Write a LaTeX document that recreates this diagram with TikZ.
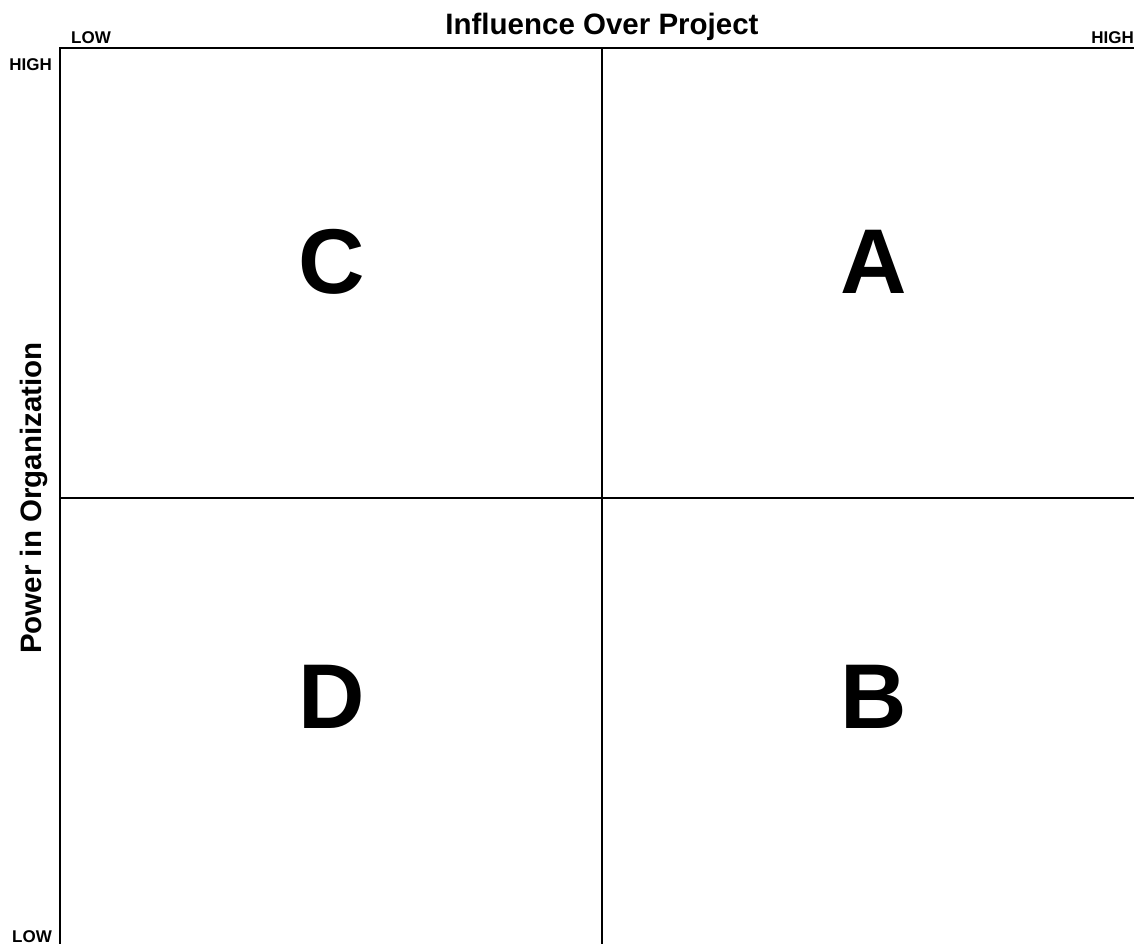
\documentclass[tikz,border=0pt]{standalone}
\usepackage{fontspec}
\setmainfont{Liberation Sans}

\tikzset{
  gridline/.style={line width=2.2pt, black},
  tick/.style={font=\bfseries\fontsize{17}{17}\selectfont, inner sep=0pt},
  axistitle/.style={font=\bfseries\fontsize{29.5}{29.5}\selectfont, inner sep=0pt},
  quadrant/.style={font=\bfseries\fontsize{92}{92}\selectfont, inner sep=0pt}
}

\begin{document}
\begin{tikzpicture}[x=1pt, y=-1pt]
    % --- 定义坐标和参数 ---
    \def\gridL{60}      % 左边界
    \def\gridM{602}     % 中线 (x)
    \def\gridR{1134}    % 右边界
    \def\gridT{48}      % 上边界
    \def\gridC{498}     % 中线 (y)
    \def\gridB{944}     % 下边界
    \useasboundingbox (0, 0) rectangle (1134, 944);

    \coordinate (tl) at (\gridL, \gridT);
    \coordinate (tr) at (\gridR, \gridT);
    \coordinate (bl) at (\gridL, \gridB);
    \coordinate (mt) at (\gridM, \gridT);
    \coordinate (mb) at (\gridM, \gridB);
    \coordinate (ml) at (\gridL, \gridC);
    \coordinate (mr) at (\gridR, \gridC);

    % --- 绘制网格 ---
    % 上边和左边
    \draw[gridline] (tr) -- (tl) -- (bl);
    % 十字中线
    \draw[gridline] (mt) -- (mb);
    \draw[gridline] (ml) -- (mr);

    % --- 坐标轴标题 ---
    \node[axistitle, anchor=base] (xtitle) at (\gridM, 35) {Influence Over Project};
    \node[axistitle, rotate=90, anchor=base] (ytitle) at (41, \gridC) {Power in Organization};

    % --- 刻度标签 ---
    \node[tick, anchor=base west] (xlow) at (71, 44) {LOW};
    \node[tick, anchor=base east] (xhigh) at (1134, 44) {HIGH};
    \node[tick, anchor=base east] (yhigh) at (52, 71) {HIGH};
    \node[tick, anchor=base east] (ylow) at (52, 942) {LOW};

    % --- 四个象限 ---
    \node[quadrant] (qc) at (332, 262) {C};
    \node[quadrant] (qa) at (874, 262) {A};
    \node[quadrant] (qd) at (332, 697) {D};
    \node[quadrant] (qb) at (874, 697) {B};

\end{tikzpicture}
\end{document}
